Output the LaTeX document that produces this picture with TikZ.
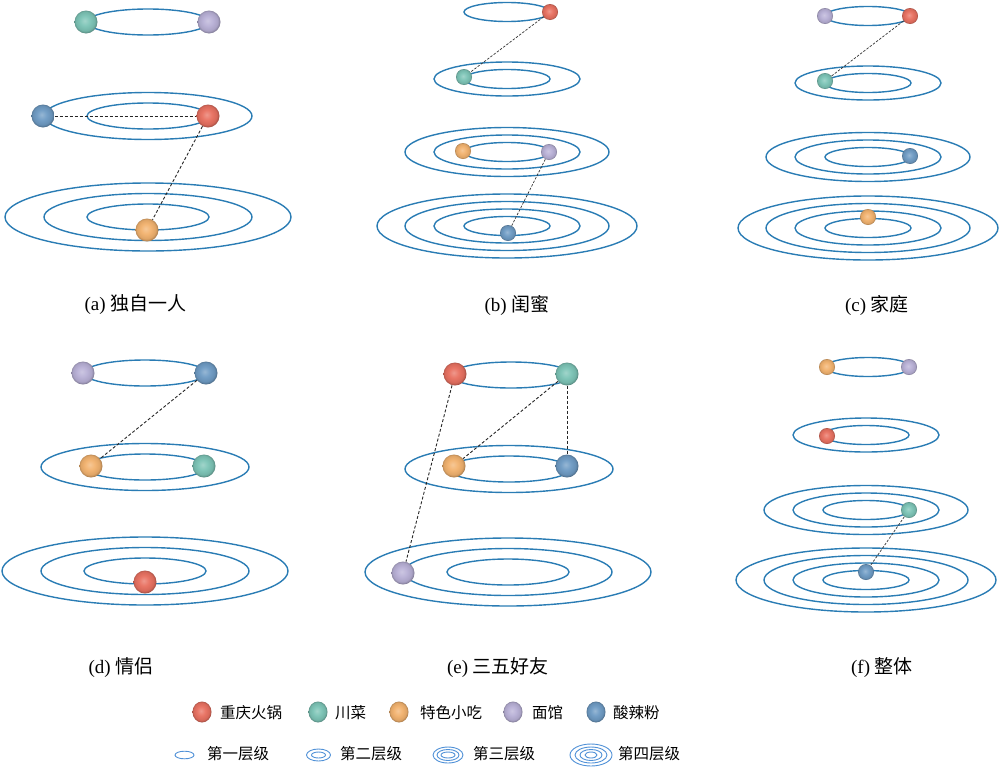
\documentclass[tikz,border=0pt]{standalone}
\usepackage{fontspec}
\setmainfont{Liberation Serif}
\newfontfamily\cjk{Noto Sans CJK SC}
\definecolor{cR}{RGB}{232,112,96}
\definecolor{cT}{RGB}{124,196,182}
\definecolor{cO}{RGB}{242,178,110}
\definecolor{cP}{RGB}{184,176,214}
\definecolor{cB}{RGB}{110,155,196}
\definecolor{ringc}{RGB}{42,124,180}
\definecolor{legc}{RGB}{80,145,215}
\newcommand\mkshade[2]{\pgfdeclareradialshading{#1}{\pgfpoint{-3bp}{3bp}}{color(0bp)=(#2!72!white); color(11bp)=(#2!96!white); color(21bp)=(#2!92!black); color(27bp)=(#2!62!black); color(50bp)=(#2!55!black)}}
\mkshade{shR}{cR}
\mkshade{shT}{cT}
\mkshade{shO}{cO}
\mkshade{shP}{cP}
\mkshade{shB}{cB}
\tikzset{
  ring/.style={draw=ringc, line width=1.4pt},
  legring/.style={draw=legc, line width=0.9pt},
  ball/.style={circle, inner sep=0pt, shade, shading=#1},
  bigb/.style={minimum size=23pt},
  smallb/.style={minimum size=16pt},
  legb/.style={ellipse, minimum width=19pt, minimum height=21pt},
  conn/.style={draw=black!85, dash pattern=on 3pt off 2pt, line width=0.9pt},
  connS/.style={draw=black!80, dash pattern=on 2.5pt off 1.5pt, line width=0.7pt},
  lab/.style={font=\fontsize{19}{22}\selectfont, inner sep=0pt},
  legt/.style={font=\fontsize{15.5}{18}\selectfont\cjk, inner sep=0pt, anchor=west},
}
\usetikzlibrary{shapes.geometric}
\newcommand\ringsL[3]{\foreach \rx/\ry [count=\i] in {61/13,104/23.5,143/34}{\ifnum\i>#3\relax\else\draw[ring] (#1,#2) ellipse [x radius=\rx pt, y radius=\ry pt];\fi}}
\newcommand\ringsS[3]{\foreach \rx/\ry [count=\i] in {43/9.5,73/17,102/24.5,130/32}{\ifnum\i>#3\relax\else\draw[ring] (#1,#2) ellipse [x radius=\rx pt, y radius=\ry pt];\fi}}
\begin{document}
\begin{tikzpicture}[x=1pt,y=-1pt]
\useasboundingbox (0,0) rectangle (1000,766);
% ---------- (a)
\ringsL{148}{22}{1}
\ringsL{148}{116}{2}
\ringsL{148}{217}{3}
\node[ball=shT,bigb] (aT) at (86,22) {};
\node[ball=shP,bigb] (aP) at (209,22) {};
\node[ball=shB,bigb] (aB) at (43,116) {};
\node[ball=shR,bigb] (aR) at (208,116) {};
\node[ball=shO,bigb] (aO) at (147,230) {};
\draw[conn] (aB) -- (aR);
\draw[conn] (aR) -- (aO);
\node[lab] (la) at (135.5,305) {(a) {\cjk 独自一人}};
% ---------- (b)
\ringsS{507}{12}{1}
\ringsS{507}{79}{2}
\ringsS{507}{152}{3}
\ringsS{507}{226}{4}
\node[ball=shR,smallb] (bR) at (550,12) {};
\node[ball=shT,smallb] (bT) at (464,77) {};
\node[ball=shO,smallb] (bO) at (463,151) {};
\node[ball=shP,smallb] (bP) at (549,152) {};
\node[ball=shB,smallb] (bB) at (508,233) {};
\draw[connS] (bR) -- (bT);
\draw[connS] (bP) -- (bB);
\node[lab] (lb) at (517,305) {(b) {\cjk 闺蜜}};
% ---------- (c)
\ringsS{868}{16}{1}
\ringsS{868}{83}{2}
\ringsS{868}{157}{3}
\ringsS{868}{228}{4}
\node[ball=shP,smallb] (cP) at (825,16) {};
\node[ball=shR,smallb] (cR) at (910,16) {};
\node[ball=shT,smallb] (cT) at (825,81) {};
\node[ball=shB,smallb] (cB) at (910,156) {};
\node[ball=shO,smallb] (cO) at (868,217) {};
\draw[connS] (cR) -- (cT);
\node[lab] (lc) at (877,305) {(c) {\cjk 家庭}};
% ---------- (d)
\ringsL{145}{373}{1}
\ringsL{145}{467}{2}
\ringsL{145}{571}{3}
\node[ball=shP,bigb] (dP) at (83,373) {};
\node[ball=shB,bigb] (dB) at (206,373) {};
\node[ball=shO,bigb] (dO) at (91,466) {};
\node[ball=shT,bigb] (dT) at (204,466) {};
\node[ball=shR,bigb] (dR) at (145,582) {};
\draw[conn] (dB) -- (dO);
\node[lab] (ld) at (121,668) {(d) {\cjk 情侣}};
% ---------- (e)
\ringsL{511}{375}{1}
\ringsL{509}{469}{2}
\ringsL{508}{572}{3}
\node[ball=shR,bigb] (eR) at (455,374) {};
\node[ball=shT,bigb] (eT) at (567,374) {};
\node[ball=shO,bigb] (eO) at (454,466) {};
\node[ball=shB,bigb] (eB) at (567,466) {};
\node[ball=shP,bigb] (eP) at (403,573) {};
\draw[conn] (eR) -- (eP);
\draw[conn] (eT) -- (eO);
\draw[conn] (eT) -- (eB);
\node[lab] (le) at (498,668) {(e) {\cjk 三五好友}};
% ---------- (f)
\ringsS{868}{367}{1}
\ringsS{866}{435}{2}
\ringsS{866}{510}{3}
\ringsS{866}{580}{4}
\node[ball=shO,smallb] (fO) at (827,367) {};
\node[ball=shP,smallb] (fP) at (909,367) {};
\node[ball=shR,smallb] (fR) at (827,436) {};
\node[ball=shT,smallb] (fT) at (909,510) {};
\node[ball=shB,smallb] (fB) at (866,572) {};
\draw[connS] (fT) -- (fB);
\node[lab] (lf) at (882,668) {(f) {\cjk 整体}};
% ---------- legend row 1
\node[ball=shR,legb] (k1) at (202,712) {};
\node[legt] (t1) at (220,713) {重庆火锅};
\node[ball=shT,legb] (k2) at (318,712) {};
\node[legt] (t2) at (335,713) {川菜};
\node[ball=shO,legb] (k3) at (399,712) {};
\node[legt] (t3) at (420,713) {特色小吃};
\node[ball=shP,legb] (k4) at (513,712) {};
\node[legt] (t4) at (532,713) {面馆};
\node[ball=shB,legb] (k5) at (596,712) {};
\node[legt] (t5) at (613,713) {酸辣粉};
% ---------- legend row 2
\draw[legring] (184.5,755) ellipse [x radius=9.5pt, y radius=3.8pt];
\node[legt] (u1) at (207,754) {第一层级};
\foreach \rx/\ry in {12/6,7/3}{\draw[legring] (318.5,755) ellipse [x radius=\rx pt, y radius=\ry pt];}
\node[legt] (u2) at (340,754) {第二层级};
\foreach \rx/\ry in {15/8,11/5.5,7/3}{\draw[legring] (448,755) ellipse [x radius=\rx pt, y radius=\ry pt];}
\node[legt] (u3) at (473,754) {第三层级};
\foreach \rx/\ry in {21/11,16/8,11/5.5,6/3}{\draw[legring] (591,755) ellipse [x radius=\rx pt, y radius=\ry pt];}
\node[legt] (u4) at (618,754) {第四层级};
\end{tikzpicture}
\end{document}
